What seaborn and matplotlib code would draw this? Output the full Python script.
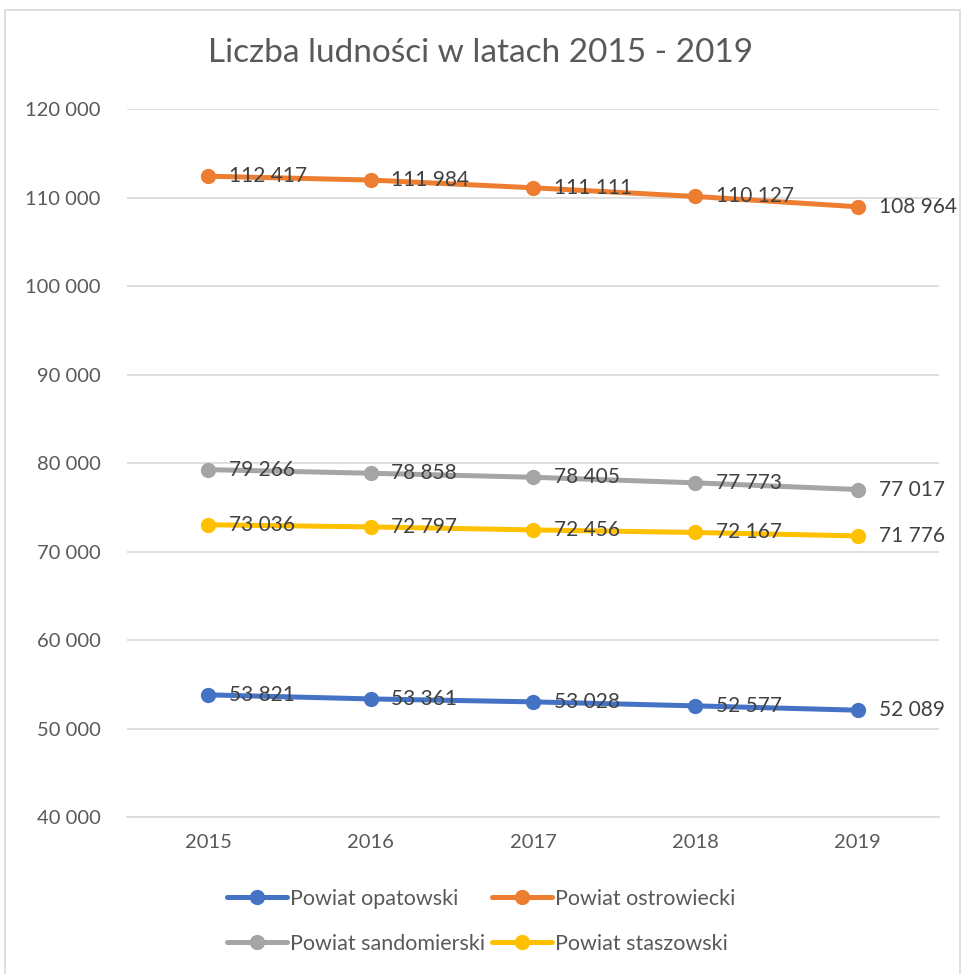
import pandas as pd
import matplotlib
matplotlib.use("Agg")
import matplotlib.pyplot as plt
import seaborn as sns
from matplotlib.patches import Rectangle
from matplotlib.lines import Line2D

# --- Data ---
YEARS = ["2015", "2016", "2017", "2018", "2019"]
OPATOWSKI = [53821, 53361, 53028, 52577, 52089]
OSTROWIECKI = [112417, 111984, 111111, 110127, 108964]
SANDOMIERSKI = [79266, 78858, 78405, 77773, 77017]
STASZOWSKI = [73036, 72797, 72456, 72167, 71776]

SERIES = {
    "Powiat opatowski": OPATOWSKI,
    "Powiat ostrowiecki": OSTROWIECKI,
    "Powiat sandomierski": SANDOMIERSKI,
    "Powiat staszowski": STASZOWSKI,
}
COLORS = ["#4472C4", "#ED7D31", "#A5A5A5", "#FFC000"]
Y_TICKS = [40000, 50000, 60000, 70000, 80000, 90000, 100000, 110000, 120000]


def fmt(v):
    return f"{v:,}".replace(",", " ")


def main():
    rows = []
    for name, vals in SERIES.items():
        for yr, v in zip(YEARS, vals):
            rows.append({"Rok": yr, "Ludnosc": v, "Powiat": name})
    df = pd.DataFrame(rows)

    sns.set_style("white")
    plt.rcParams["font.family"] = ["Lato", "DejaVu Sans"]

    fig = plt.figure(figsize=(9.62, 9.74), dpi=100)
    ax = fig.add_axes([0.132, 0.161, 0.844, 0.727])

    palette = dict(zip(SERIES.keys(), COLORS))
    sns.lineplot(data=df, x="Rok", y="Ludnosc", hue="Powiat", palette=palette,
                 marker="o", markersize=11, markeredgewidth=0, linewidth=3.6,
                 sort=False, legend=False, ax=ax)

    # data labels right of each point
    for name, vals in SERIES.items():
        for i, v in enumerate(vals):
            ax.annotate(fmt(v), (i, v), xytext=(15, 0), textcoords="offset points",
                        ha="left", va="center", fontsize=15, color="#404040")

    ax.set_xlim(-0.5, len(YEARS) - 0.5)
    ax.set_ylim(40000, 120000)
    ax.set_yticks(Y_TICKS)
    ax.set_yticklabels([fmt(t) for t in Y_TICKS])
    ax.grid(axis="y", color="#D9D9D9", linewidth=1.2)
    ax.set_axisbelow(True)
    for side in ["left", "right", "top"]:
        ax.spines[side].set_visible(False)
    ax.spines["bottom"].set_color("#D9D9D9")
    ax.spines["bottom"].set_linewidth(1.2)
    ax.tick_params(axis="both", length=0, labelsize=14.5, labelcolor="#595959")
    ax.tick_params(axis="y", pad=19)
    ax.tick_params(axis="x", pad=12)
    ax.set_xlabel("")
    ax.set_ylabel("")

    fig.text(0.5, 0.946, "Liczba ludności w latach 2015 - 2019", ha="center", va="center",
             fontsize=24, color="#595959")

    # legend: row-wise order like Excel
    names = list(SERIES.keys())
    handles = [Line2D([0], [0], color=c, linewidth=3.6, marker="o", markersize=11,
                      markeredgewidth=0) for c in COLORS]
    order = [0, 2, 1, 3]
    fig.legend([handles[i] for i in order], [names[i] for i in order],
               loc="center", bbox_to_anchor=(0.5, 0.054), ncol=2, frameon=False,
               fontsize=15.5, labelcolor="#595959", handlelength=2.8,
               handletextpad=0.15, columnspacing=0.3, labelspacing=1.15)

    fig.patches.append(Rectangle((0.005, -0.01), 0.993, 1.0, transform=fig.transFigure,
                                 fill=False, edgecolor="#D9D9D9", linewidth=1.2))

    fig.savefig("out.png", dpi=100)


if __name__ == "__main__":
    main()
